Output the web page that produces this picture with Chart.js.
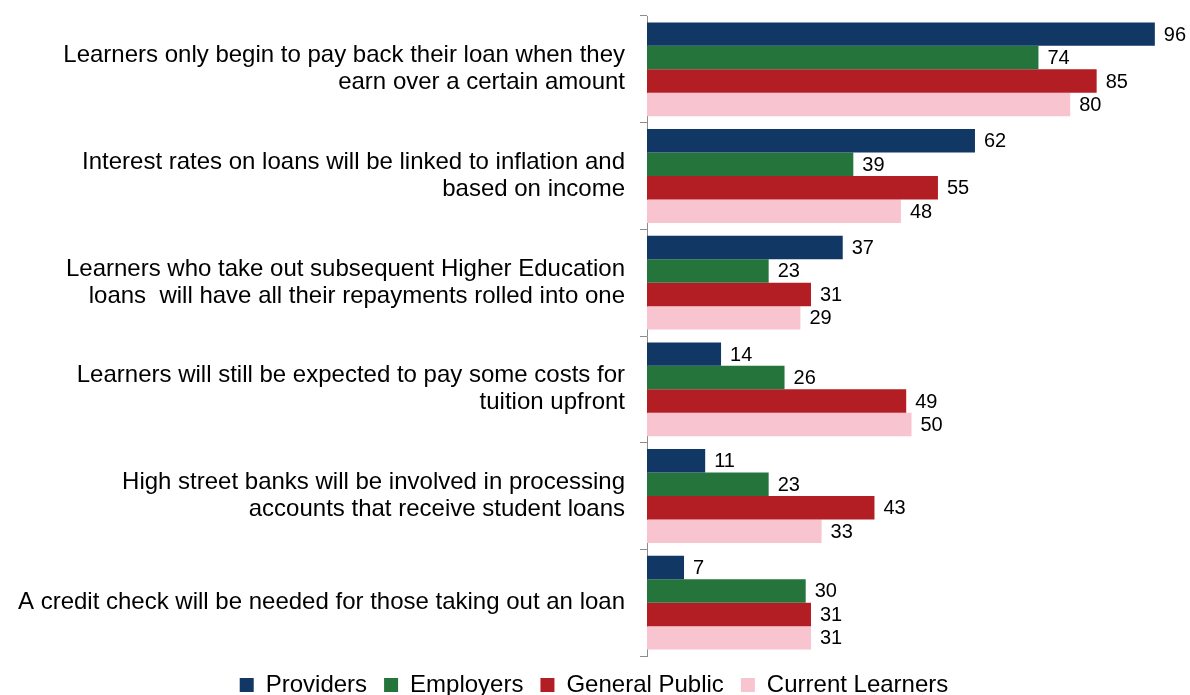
<!DOCTYPE html>
<html>
<head>
<meta charset="utf-8">
<script src="https://cdn.jsdelivr.net/npm/chart.js@4"></script>
<style>
  html, body { margin: 0; padding: 0; background: #fff; }
  #wrap { width: 1190px; height: 695px; }
</style>
</head>
<body>
<div id="wrap"><canvas id="myChart"></canvas></div>
<script>
var statements = [
    ["Learners only begin to pay back their loan when they", "earn over a certain amount"],
    ["Interest rates on loans will be linked to inflation and", "based on income"],
    ["Learners who take out subsequent Higher Education", "loans  will have all their repayments rolled into one"],
    ["Learners will still be expected to pay some costs for", "tuition upfront"],
    ["High street banks will be involved in processing", "accounts that receive student loans"],
    ["A credit check will be needed for those taking out an loan"]
];
var providers      = [96, 62, 37, 14, 11, 7];
var employers      = [74, 39, 23, 26, 23, 30];
var generalPublic  = [85, 55, 31, 49, 43, 31];
var currentLearners = [80, 48, 29, 50, 33, 31];

var FONT = '"Liberation Sans", Arial, sans-serif';

// value labels at the end of each bar
var barValues = {
    id: 'barValues',
    afterDatasetsDraw: function (chart) {
        var ctx = chart.ctx;
        ctx.save();
        ctx.font = '20px ' + FONT;
        ctx.fillStyle = '#000';
        ctx.textBaseline = 'middle';
        ctx.textAlign = 'left';
        chart.data.datasets.forEach(function (ds, i) {
            chart.getDatasetMeta(i).data.forEach(function (bar, j) {
                ctx.fillText(ds.data[j], bar.x + 9, bar.y + 1);
            });
        });
        ctx.restore();
    }
};

var ctx = document.getElementById('myChart').getContext('2d');
var chart = new Chart(ctx, {
    type: 'bar',
    data: {
        labels: statements,
        datasets: [
            { label: 'Providers', data: providers, backgroundColor: '#113764' },
            { label: 'Employers', data: employers, backgroundColor: '#24743b' },
            { label: 'General Public', data: generalPublic, backgroundColor: '#b31e25' },
            { label: 'Current Learners', data: currentLearners, backgroundColor: '#f8c4cf' }
        ]
    },
    options: {
        indexAxis: 'y',
        responsive: true,
        maintainAspectRatio: false,
        animation: false,
        datasets: {
            bar: { categoryPercentage: 0.88, barPercentage: 1.0 }
        },
        layout: { padding: { top: 16, left: 12, right: 14, bottom: -12 } },
        scales: {
            x: {
                display: false,
                min: 0,
                max: 100
            },
            y: {
                // long statements need a wide axis; no extra room above/below
                afterFit: function (scale) {
                    scale.width = 635;
                    scale.paddingTop = 0;
                    scale.paddingBottom = 0;
                },
                grid: {
                    drawOnChartArea: false,
                    tickLength: 7,
                    color: '#8c8c8c',
                    offset: true
                },
                border: { color: '#8c8c8c', width: 1 },
                ticks: {
                    color: '#000',
                    padding: 15,
                    font: { family: FONT, size: 24, lineHeight: 1.125 }
                }
            }
        },
        plugins: {
            legend: {
                position: 'bottom',
                labels: {
                    color: '#000',
                    boxWidth: 14,
                    boxHeight: 14,
                    padding: 17,
                    font: { family: FONT, size: 24 }
                }
            },
            tooltip: { enabled: false }
        }
    },
    plugins: [barValues]
});
</script>
</body>
</html>
